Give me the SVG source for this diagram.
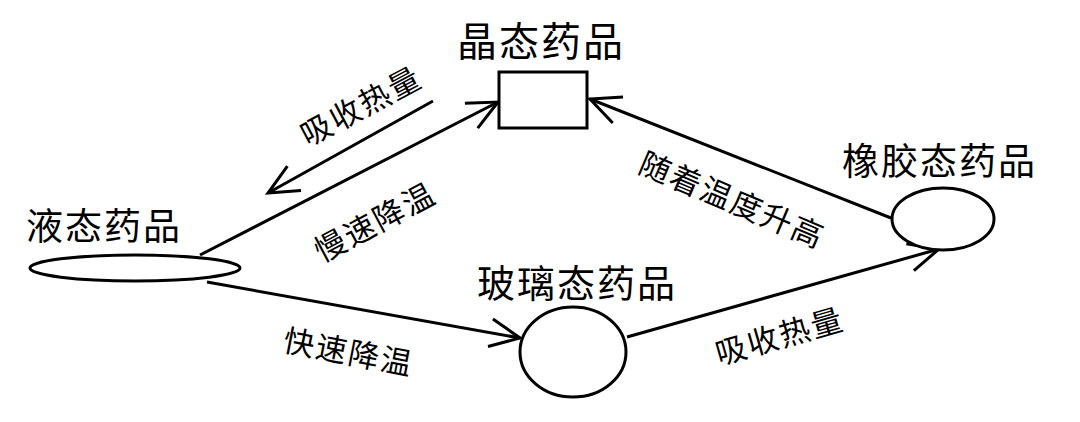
<svg xmlns="http://www.w3.org/2000/svg" width="1080" height="422" viewBox="0 0 1080 422">
<style>
.shape{fill:#fff;stroke:#000;stroke-width:3}
.conn{fill:none;stroke:#000;stroke-width:3;marker-end:url(#arr)}
.title{font-family:"Noto Sans CJK SC","Noto Sans",sans-serif;font-size:37px;fill:#000;letter-spacing:2px}
.lab{font-family:"Noto Sans CJK SC","Noto Sans",sans-serif;font-size:31px;fill:#000;letter-spacing:2px;text-anchor:middle;dominant-baseline:central}
</style>
<defs>
<marker id="arr" viewBox="-34 -18 38 36" refX="0" refY="0" markerWidth="38" markerHeight="36" markerUnits="userSpaceOnUse" orient="auto">
<path d="M-30,-14 L0,0 L-30,14" fill="none" stroke="#000" stroke-width="3"/>
</marker>
</defs>
<rect width="1080" height="422" fill="#fff"/>
<g id="connectors">
<line class="conn" x1="200" y1="255" x2="498" y2="102"/>
<line class="conn" x1="433" y1="101" x2="268" y2="193"/>
<line class="conn" x1="207" y1="282" x2="520" y2="338"/>
<line class="conn" x1="627" y1="337" x2="939" y2="249"/>
<line class="conn" x1="891" y1="218" x2="590" y2="99"/>
<text class="lab" transform="translate(360,104) rotate(-28)">吸收热量</text>
<text class="lab" transform="translate(374,220) rotate(-28)">慢速降温</text>
<text class="lab" transform="translate(733,198) rotate(23)">随着温度升高</text>
<text class="lab" transform="translate(349,350) rotate(11)">快速降温</text>
<text class="lab" transform="translate(779,334) rotate(-16)">吸收热量</text>
</g>
<g id="node-crystal">
<rect class="shape" x="499" y="72" width="88" height="56"/>
<text class="title" x="457" y="56" style="font-size:40px">晶态药品</text>
</g>
<g id="node-liquid">
<ellipse class="shape" cx="135" cy="268" rx="105" ry="13"/>
<text class="title" x="26" y="240">液态药品</text>
</g>
<g id="node-glass">
<ellipse class="shape" cx="573" cy="352" rx="53" ry="45"/>
<text class="title" x="477" y="297" style="font-size:38px">玻璃态药品</text>
</g>
<g id="node-rubber">
<ellipse class="shape" cx="943" cy="219" rx="51" ry="31"/>
<text class="title" x="842" y="175">橡胶态药品</text>
</g>
</svg>
